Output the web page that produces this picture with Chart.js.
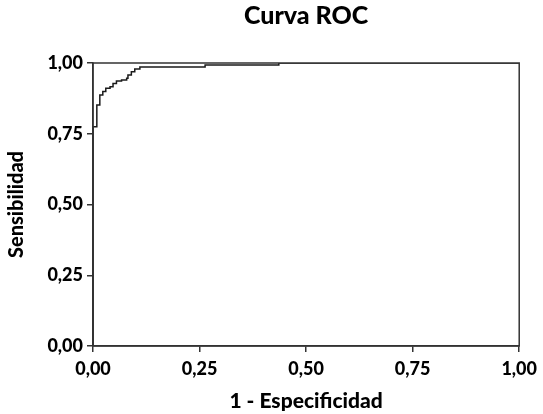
<!DOCTYPE html>
<html>
<head>
<meta charset="utf-8">
<script src="https://cdn.jsdelivr.net/npm/chart.js@4"></script>
<style>
  html, body { margin: 0; padding: 0; background: #fff; }
  #wrap { width: 543px; height: 414px; }
</style>
</head>
<body>
<div id="wrap"><canvas id="rocChart" width="543" height="414"></canvas></div>
<script>
// ROC curve corners (1 - specificity, sensitivity)
const fpr = [0, 0, 0.009, 0.016, 0.023, 0.030, 0.040, 0.047, 0.055, 0.067, 0.079, 0.082, 0.090, 0.098, 0.110, 0.263, 0.436, 1];
const tpr = [0, 0.775, 0.852, 0.887, 0.899, 0.911, 0.916, 0.928, 0.936, 0.940, 0.946, 0.958, 0.969, 0.979, 0.986, 0.993, 1.0, 1.0];
const tickValues = [0, 0.25, 0.5, 0.75, 1];

const font = "Lato, 'DejaVu Sans', sans-serif";
const lineCol = '#333';

const points = fpr.map((x, i) => ({ x: x, y: tpr[i] }));

// frame around the plot area (top and right sides included)
const frame = {
    id: 'frame',
    afterDatasetsDraw(chart) {
        const a = chart.chartArea;
        const c = chart.ctx;
        c.save();
        c.strokeStyle = lineCol;
        c.lineWidth = 1.5;
        c.strokeRect(a.left, a.top, a.right - a.left, a.bottom - a.top);
        c.restore();
    }
};

const fmt = v => v.toFixed(2).replace('.', ',');

const ctx = document.getElementById('rocChart').getContext('2d');
const rocChart = new Chart(ctx, {
    type: 'line',
    data: {
        datasets: [{
            label: 'ROC',
            data: points,
            stepped: 'before',
            borderColor: '#1a1a1a',
            borderWidth: 1.5,
            pointRadius: 0,
            fill: false
        }]
    },
    options: {
        responsive: false,
        animation: false,
        layout: { padding: { left: 0, right: 21, top: 0, bottom: 0 } },
        plugins: {
            legend: { display: false },
            tooltip: { enabled: false },
            title: {
                display: true,
                text: 'Curva ROC',
                fullSize: false,
                color: '#000',
                font: { family: font, size: 25, weight: 900 },
                padding: { top: 1, bottom: 32 }
            }
        },
        scales: {
            x: {
                type: 'linear',
                min: 0,
                max: 1,
                afterBuildTicks: s => { s.ticks = tickValues.map(v => ({ value: v })); },
                afterFit: s => { s.height = 68; },
                ticks: {
                    callback: fmt,
                    color: '#000',
                    padding: 6,
                    maxRotation: 0,
                    font: { family: font, size: 18, weight: 900 }
                },
                grid: { drawOnChartArea: false, tickLength: 6, color: lineCol, lineWidth: 1.5 },
                border: { display: true, color: lineCol, width: 1.5 },
                title: {
                    display: true,
                    text: '1 - Especificidad',
                    color: '#000',
                    font: { family: font, size: 21, weight: 900 },
                    padding: { top: 0, bottom: 0 }
                }
            },
            y: {
                type: 'linear',
                min: 0,
                max: 1,
                afterBuildTicks: s => { s.ticks = tickValues.map(v => ({ value: v })); },
                afterFit: s => { s.width = 93; },
                ticks: {
                    callback: fmt,
                    color: '#000',
                    padding: 4,
                    font: { family: font, size: 18, weight: 900 }
                },
                grid: { drawOnChartArea: false, tickLength: 6, color: lineCol, lineWidth: 1.5 },
                border: { display: true, color: lineCol, width: 1.5 },
                title: {
                    display: true,
                    text: 'Sensibilidad',
                    color: '#000',
                    font: { family: font, size: 20, weight: 900 },
                    padding: { top: 5, bottom: 0 }
                }
            }
        }
    },
    plugins: [frame]
});
</script>
</body>
</html>
